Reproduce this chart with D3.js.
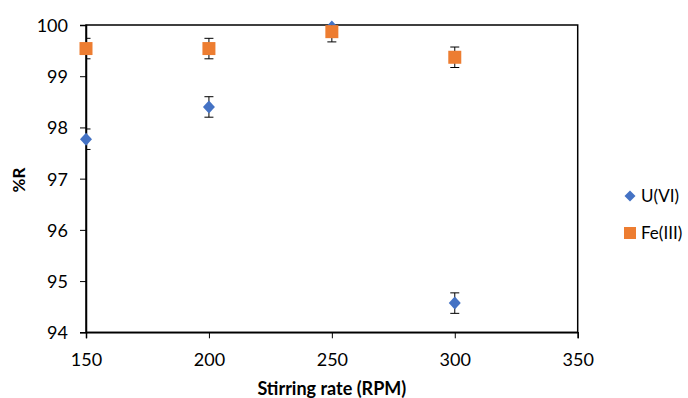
<!DOCTYPE html>
<html>
<head>
<meta charset="utf-8">
<script src="https://cdn.jsdelivr.net/npm/d3@7"></script>
<style>
  body { margin: 0; background: #fff; }
  svg { display: block; font-family: Lato, "Open Sans", sans-serif; }
</style>
</head>
<body>
<svg id="chart" width="688" height="398"></svg>
<script>
// dane
const rpm = [150, 200, 250, 300];
const uVI = [97.77, 98.40, 99.96, 94.57];
const uErr = [0.2, 0.2, 0.2, 0.2];
const feIII = [99.54, 99.54, 99.87, 99.37];
const feErr = [0.2, 0.2, 0.2, 0.2];
const xTicks = [150, 200, 250, 300, 350];
const yTicks = [94, 95, 96, 97, 98, 99, 100];

const svg = d3.select("#chart");
const margin = {left: 86, top: 25, right: 110.3, bottom: 65.7};
const W = 688 - margin.left - margin.right;
const H = 398 - margin.top - margin.bottom;

const x = d3.scaleLinear().domain([150, 350]).range([0, W]);
const y = d3.scaleLinear().domain([94, 100]).range([H, 0]);

const g = svg.append("g").attr("transform", `translate(${margin.left},${margin.top})`);

g.append("clipPath").attr("id", "plotClip")
  .append("rect").attr("width", W).attr("height", H);

// ramka obszaru wykresu
g.append("rect")
  .attr("width", W).attr("height", H)
  .attr("fill", "none").attr("stroke", "#000").attr("stroke-width", 1.5);

// osie
const xAxis = g.append("g").attr("transform", `translate(0,${H})`)
  .call(d3.axisBottom(x).tickValues(xTicks).tickSize(6).tickPadding(8).tickFormat(d3.format("d")));
const yAxis = g.append("g")
  .call(d3.axisLeft(y).tickValues(yTicks).tickSize(6).tickPadding(12).tickFormat(d3.format("d")));

[xAxis, yAxis].forEach(a => {
  a.select(".domain").attr("stroke", "#000").attr("stroke-width", 1.5);
  a.selectAll(".tick line").attr("stroke", "#000").attr("stroke-width", 1);
  a.selectAll(".tick text").attr("fill", "#000").style("font-size", "18px").style("font-family", "Lato, sans-serif");
});
xAxis.selectAll(".tick text").attr("y", 34).attr("dy", 0);
yAxis.selectAll(".tick text").attr("dy", "0.36em");

// funkcja rysowania serii z błędami
function drawSeries(vals, errs, cls, markerFn) {
  const pts = rpm.map((r, i) => ({x: r, y: vals[i], e: errs[i]}));
  const eb = g.append("g").attr("clip-path", "url(#plotClip)")
    .selectAll("g").data(pts).enter().append("g")
    .attr("stroke", "#000").attr("stroke-width", 1);
  eb.append("line")
    .attr("x1", d => x(d.x)).attr("x2", d => x(d.x))
    .attr("y1", d => y(d.y - d.e)).attr("y2", d => y(d.y + d.e));
  eb.append("line")
    .attr("x1", d => x(d.x) - 4.5).attr("x2", d => x(d.x) + 4.5)
    .attr("y1", d => y(d.y - d.e)).attr("y2", d => y(d.y - d.e));
  eb.append("line")
    .attr("x1", d => x(d.x) - 4.5).attr("x2", d => x(d.x) + 4.5)
    .attr("y1", d => y(d.y + d.e)).attr("y2", d => y(d.y + d.e));
  g.append("g").selectAll("path").data(pts).enter().append("path")
    .attr("class", cls)
    .attr("transform", d => `translate(${x(d.x)},${y(d.y)})`)
    .call(markerFn);
}

const diamond = s => s.attr("d", "M0,-6.5L6,0L0,6.5L-6,0Z").attr("fill", "#4472C4");
const square = s => s.attr("d", "M-6.5,-6.5H6.5V6.5H-6.5Z").attr("fill", "#ED7D31");

drawSeries(uVI, uErr, "u", diamond);
drawSeries(feIII, feErr, "fe", square);

// tytuły osi
svg.append("text")
  .attr("x", margin.left + W / 2).attr("y", 395)
  .attr("text-anchor", "middle")
  .style("font-size", "18px").style("font-weight", "bold")
  .text("Stirring rate (RPM)");

svg.append("text")
  .attr("transform", "translate(25,180) rotate(-90)")
  .attr("text-anchor", "middle")
  .style("font-size", "17px").style("font-weight", "bold")
  .text("%R");

// legenda
const legend = svg.append("g");
legend.append("path").attr("transform", "translate(630,196)")
  .attr("d", "M0,-5.5L5.5,0L0,5.5L-5.5,0Z").attr("fill", "#4472C4");
legend.append("text").attr("x", 641).attr("y", 196).attr("dy", "0.36em")
  .style("font-size", "17px").text("U(VI)");
legend.append("rect").attr("x", 624).attr("y", 227).attr("width", 12).attr("height", 12)
  .attr("fill", "#ED7D31");
legend.append("text").attr("x", 641).attr("y", 233).attr("dy", "0.36em")
  .style("font-size", "17px").text("Fe(III)");
</script>
</body>
</html>
